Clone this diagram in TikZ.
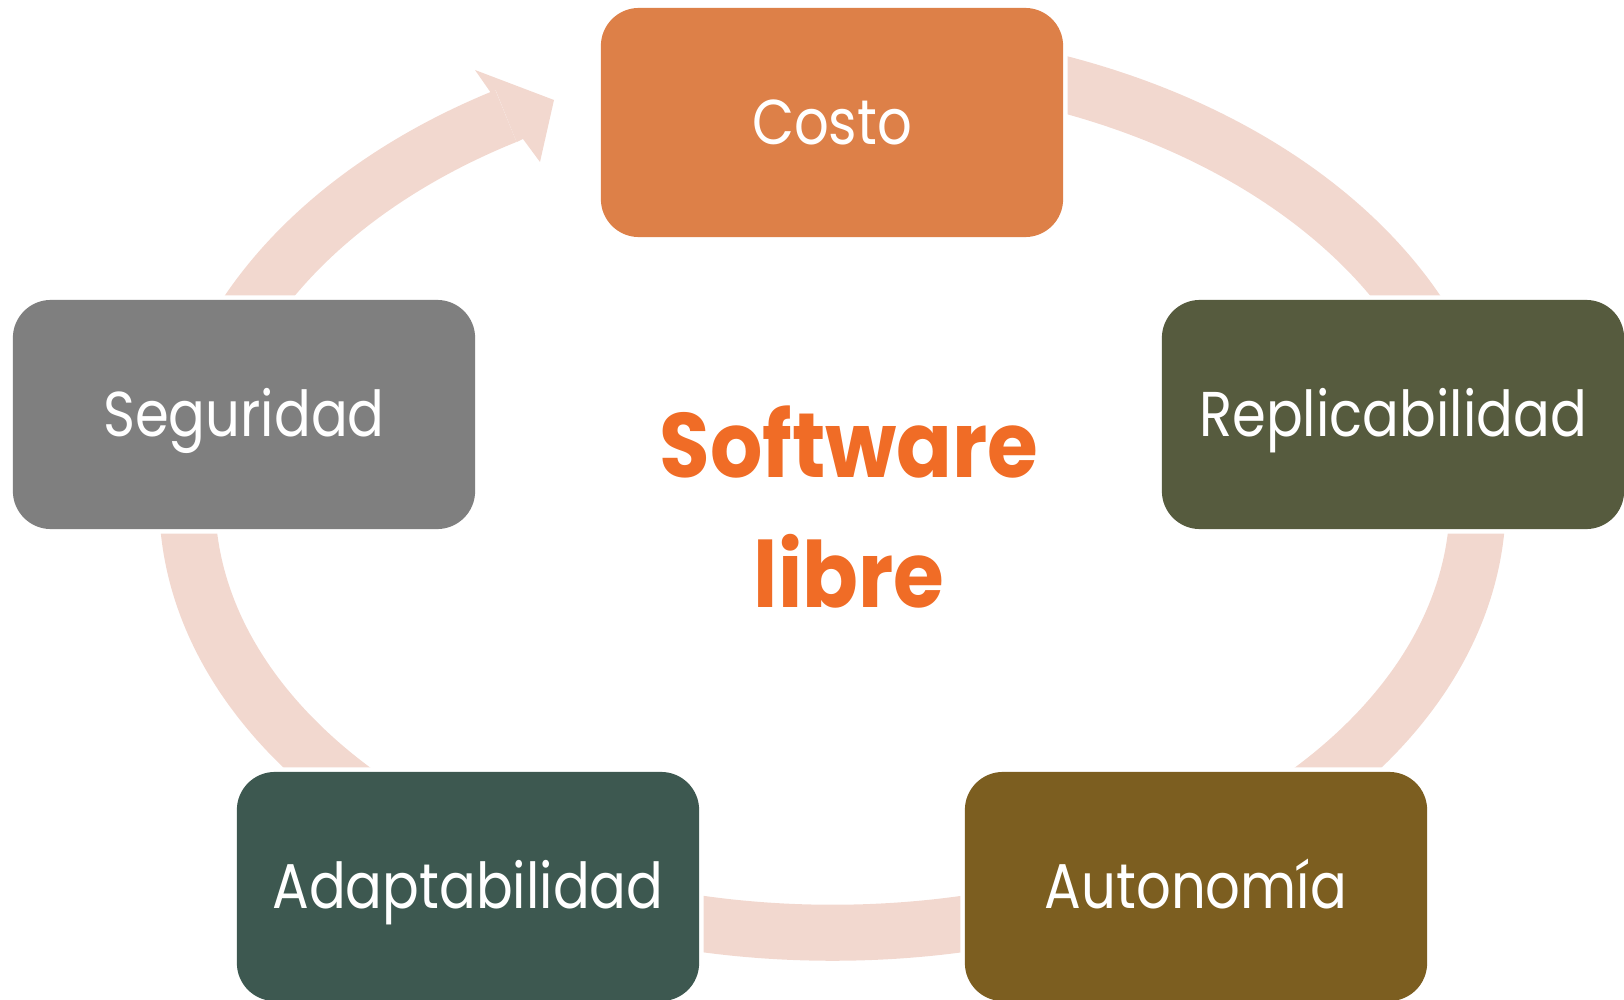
\documentclass[tikz,border=0pt]{standalone}
\usepackage{fontspec}
\usepackage{tikz}
\usetikzlibrary{backgrounds}
\newfontfamily\boxfont{Poppins}[FakeStretch=0.86]
\newfontfamily\slfont{Poppins}[FakeStretch=0.9]
\definecolor{costocol}{RGB}{221,128,72}
\definecolor{replcol}{RGB}{86,91,62}
\definecolor{autocol}{RGB}{124,94,32}
\definecolor{adapcol}{RGB}{61,88,80}
\definecolor{segucol}{RGB}{127,127,127}
\definecolor{ringcol}{RGB}{242,216,207}
\definecolor{slorange}{RGB}{240,108,38}
\tikzstyle{cyclebox}=[rounded corners=0.38cm, minimum width=4.62cm, minimum height=2.29cm,
                      inner sep=0, text=white, font=\boxfont\fontsize{18pt}{20pt}\selectfont,
                      text height=0.44cm, text depth=0pt,
                      % white halo cuts the ring next to each box
                      preaction={draw=white, line width=0.09cm}]
\tikzstyle{cyclearrow}=[draw=ringcol, line width=0.56cm]
\tikzstyle{cyclehead}=[fill=ringcol]

\begin{document}
\begin{tikzpicture}[x=0.01cm, y=0.01cm]
        \useasboundingbox (0,0) rectangle (1624,999);
        \node[cyclebox, fill=costocol] (costo) at (832,876.5) {Costo};
        \node[cyclebox, fill=replcol] (repl) at (1393,584.5) {Replicabilidad};
        \node[cyclebox, fill=autocol] (auto) at (1196,112.5) {Autonomía};
        \node[cyclebox, fill=adapcol] (adap) at (468,112.5) {Adaptabilidad};
        \node[cyclebox, fill=segucol] (segu) at (244,584.5) {Seguridad};
        \node[align=center, text=slorange, font=\slfont\bfseries\fontsize{26pt}{37pt}\selectfont]
            (sl) at (849,492) {Software\\libre};
        \coordinate (ringc) at (832.5,499);
        \begin{scope}[on background layer]
            \draw[cyclearrow] (ringc) ++(75:6.45cm and 4.45cm)
                arc[start angle=75, end angle=0, x radius=6.45cm, y radius=4.45cm]
                arc[start angle=0, end angle=-180, x radius=6.45cm, y radius=4.325cm]
                arc[start angle=180, end angle=120.4, x radius=6.45cm, y radius=4.45cm];
            % arrow head pointing into Costo
            \fill[cyclehead] (491,906) -- (475,929) -- (554,899) -- (540,837) -- (523,860)
                -- (516.6,856.9) -- (495.6,908.9) -- cycle;
        \end{scope}
    \end{tikzpicture}
\end{document}
